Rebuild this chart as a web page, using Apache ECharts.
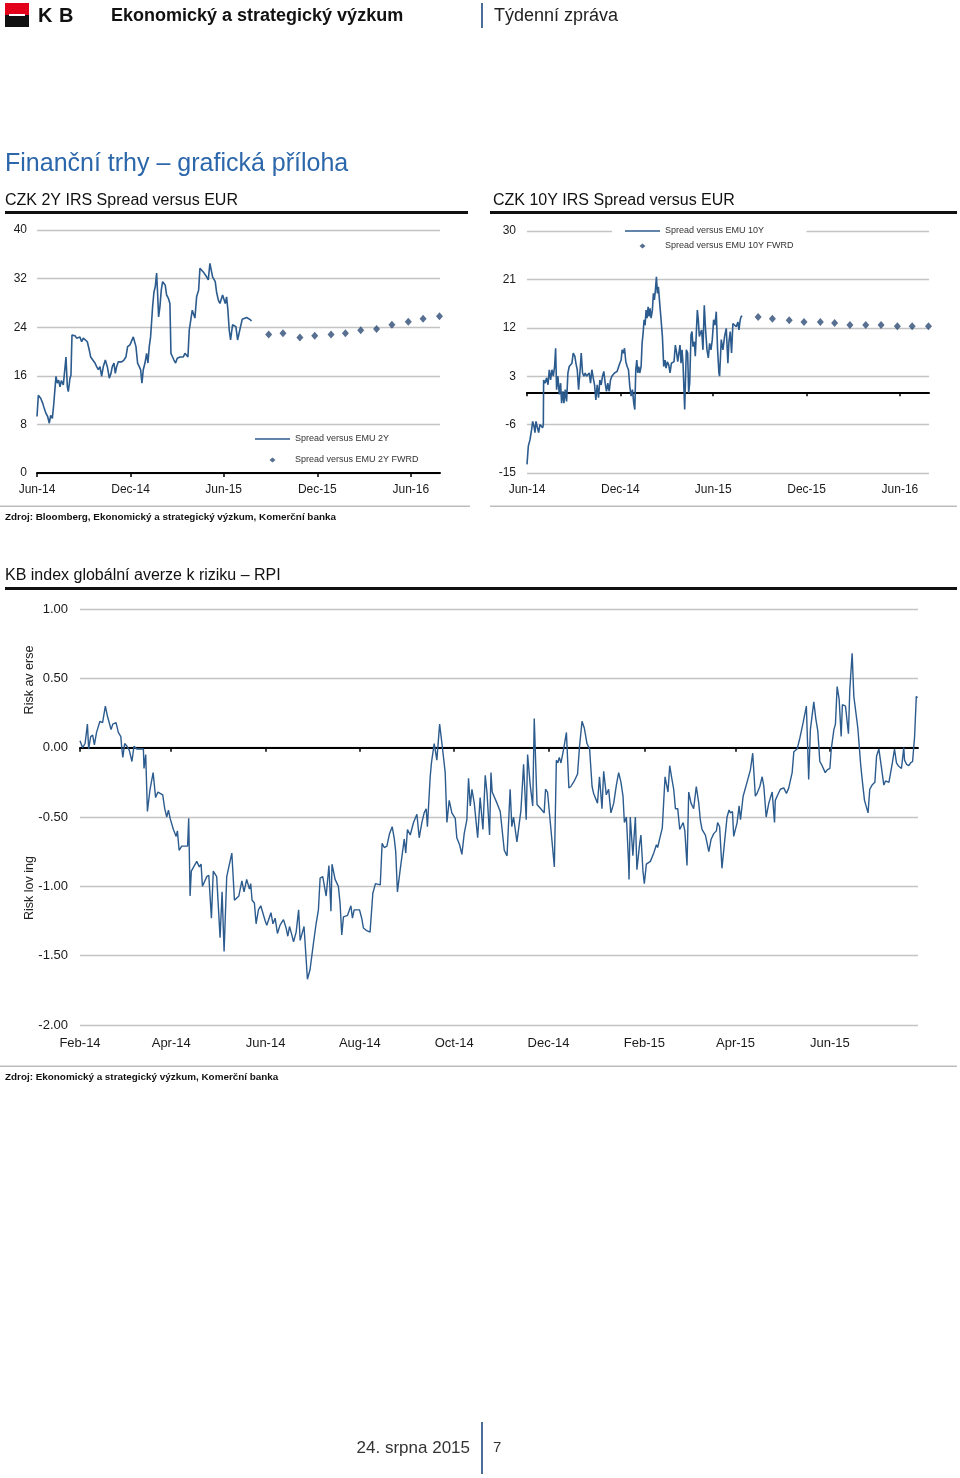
<!DOCTYPE html>
<html><head><meta charset="utf-8">
<script src="https://cdn.jsdelivr.net/npm/echarts@6/dist/echarts.min.js"></script>
<style>html,body{margin:0;padding:0;background:#fff}#c{width:960px;height:1478px}</style>
</head><body><div id="c"></div><script>
// ---------- DATA ----------
const spreadStart = '2014-06-01';
const spreadAxisEnd = '2016-07-28';
const spreadTickDates = ['2014-06-01','2014-12-01','2015-06-01','2015-12-01','2016-06-01'];
const spreadTickLabels = ['Jun-14','Dec-14','Jun-15','Dec-15','Jun-16'];

// days after spreadStart
const spread2yDays = [0,2.6,7.2,11.1,14.3,17.6,20.8,24.1,26.7,30.0,32.6,35.2,
 37.1,39.7,42.3,45.0,47.6,51.5,54.7,56.7,59.3,61.2,64.5,66.4,68.4,71.0,74.3,77.5,80.8,84.0,87.3,90.6,
 94.5,98.4,102.3,104.9,108.8,113.4,116.6,119.9,123.1,126.4,129.6,133.6,137.5,141.4,144.6,147.2,150.5,153.1,155.7,159.0,
 162.2,165.5,170.0,173.9,177.2,181.8,185.0,188.3,190.2,193.5,196.7,200.0,202.6,205.2,207.8,211.1,214.3,216.9,219.5,222.1,
 224.1,226.1,228.7,231.3,233.9,235.8,237.8,240.4,243.0,245.6,248.2,250.8,253.4,256.7,259.9,261.9,265.1,267.8,271.0,274.3,
 276.9,279.5,282.7,286.0,289.3,292.5,295.1,297.7,301.0,303.6,306.8,308.8,312.1,316.0,318.6,321.8,325.1,328.3,331.6,334.9,
 338.1,340.7,343.3,345.9,348.5,351.1,354.4,357.7,360.9,362.9,365.5,368.1,370.7,373.3,375.9,378.5,382.4,385.7,388.9,392.2,
 395.4,398.0,401.3,404.6,409.8,413.7,417.6,419.5];
const spread2yValues = [9.3,12.8,12.3,11.5,10.6,9.8,9.3,8.2,9.5,9.0,11.2,11.5,
 15.9,14.8,15.3,14.2,15.2,14.5,14.8,19.1,14.2,13.4,15.6,16.1,22.7,23.0,22.6,22.2,21.9,22.4,21.6,22.2,
 22.4,21.6,20.2,19.1,18.9,18.1,17.5,17.0,17.5,15.9,17.5,18.6,17.5,15.6,16.4,17.5,18.1,16.4,17.5,18.3,
 18.1,18.3,18.6,19.1,20.8,21.1,21.3,22.4,22.7,20.8,18.1,17.5,17.0,14.8,17.0,18.1,19.7,18.1,20.8,22.4,
 24.9,27.4,29.8,30.7,32.9,29.6,25.7,27.4,30.1,31.5,31.8,30.9,29.3,28.8,27.9,19.7,19.1,18.6,18.1,18.9,
 18.7,19.1,19.4,19.1,19.7,19.7,19.1,23.5,23.8,26.8,27.1,25.5,29.0,30.1,33.7,34.0,33.1,33.4,32.3,31.8,
 34.5,33.4,32.3,32.0,31.5,29.8,28.5,27.9,28.2,29.3,29.0,27.9,29.0,26.8,23.5,21.9,24.4,24.6,24.1,21.9,
 21.6,24.1,25.3,25.6,25.6,25.4,25.2,25.0];

const spread10yDays = [0,2.6,5.9,9.1,11.1,13.7,15.6,17.6,20.2,22.8,25.4,28.7,30.6,32.0,
 32.6,35.2,38.5,41.1,43.7,46.3,48.9,51.5,54.1,56.1,58.0,60.6,63.3,65.9,67.8,70.4,72.4,75.0,77.6,80.2,
 82.8,85.4,88.0,90.6,93.9,95.9,98.5,101.1,103.7,106.3,108.9,111.5,114.1,116.7,119.3,121.9,124.5,127.2,129.8,132.4,
 135.0,137.6,140.2,142.8,145.4,148.0,150.6,153.2,155.8,158.4,161.1,163.7,166.3,168.9,171.5,174.1,176.7,179.3,181.9,184.5,
 186.5,189.1,191.1,193.7,196.3,198.9,201.5,204.1,206.7,209.3,211.3,213.2,215.2,217.1,219.1,221.0,223.7,225.6,227.6,229.5,
 231.5,233.4,235.4,237.4,239.3,241.3,243.2,245.8,247.8,249.7,251.7,253.7,255.6,257.6,260.2,262.8,265.4,268.0,270.6,272.6,
 275.2,277.8,280.4,283.0,285.6,288.2,290.8,293.4,295.4,298.0,299.9,301.9,303.9,305.8,309.1,312.3,314.9,316.9,318.9,321.5,
 323.4,325.4,328.0,329.9,331.9,333.9,335.8,337.8,339.7,342.3,344.9,347.5,350.1,352.8,355.4,358.0,360.6,363.2,365.8,368.4,
 371.0,373.6,376.2,377.5,380.8,384.1,387.3,390.6,393.8,395.8,398.4,401.0,403.6,406.9,410.2,413.4,415.4,418.0,419.9,421.9];
const spread10yValues = [-13.4,-10.0,-8.8,-6.9,-5.4,-6.3,-7.5,-5.4,-5.7,-7.5,-6.0,-6.3,-6.6,-6.0,
 2.3,1.7,2.7,1.4,4.2,2.3,4.2,3.0,4.8,8.2,0.5,3.0,-0.4,1.7,-2.0,0.2,-2.0,0.5,-1.7,3.6,
 4.8,5.1,5.4,7.3,6.7,5.4,4.2,0.5,3.6,7.3,3.6,3.0,3.6,3.0,2.7,3.6,1.7,4.2,2.7,1.4,
 -1.4,1.4,-1.0,2.3,1.4,3.0,3.9,1.7,0.2,1.7,0.2,2.3,3.0,2.7,3.6,3.3,3.9,4.2,5.4,6.0,
 7.9,7.3,8.2,5.7,4.8,4.2,1.1,-0.7,0.5,-2.0,-3.2,4.2,6.0,3.6,4.8,3.6,4.8,9.1,11.0,13.5,
 12.5,15.3,13.8,15.9,14.1,15.6,13.8,15.3,18.4,17.2,19.0,21.5,18.4,19.6,16.5,13.5,10.4,4.8,6.0,4.5,
 5.7,5.1,3.6,5.4,5.1,5.7,8.8,7.3,5.7,6.0,8.8,5.4,7.9,5.4,-3.2,7.9,7.3,-0.1,1.7,10.7,
 11.3,8.5,9.4,6.7,6.7,15.3,13.5,10.4,11.0,11.6,7.9,16.2,11.6,7.9,6.4,9.1,7.9,9.8,13.5,12.5,
 15.0,7.9,3.6,3.0,9.8,7.9,10.4,11.9,5.4,9.4,11.3,7.3,12.8,12.5,12.2,13.1,11.6,13.5,14.1,14.2];

const fwrdDates = ['2015-08-28','2015-09-25','2015-10-28','2015-11-26','2015-12-28','2016-01-25',
 '2016-02-24','2016-03-26','2016-04-25','2016-05-27','2016-06-25','2016-07-27'];
const fwrd2yValues = [22.8,23.0,22.3,22.6,22.8,23.0,23.5,23.7,24.4,24.9,25.4,25.8];
const fwrd10yValues = [14.0,13.7,13.4,13.1,13.1,12.9,12.5,12.5,12.5,12.3,12.3,12.3];

const rpiStart = '2014-02-01';
const rpiAxisEnd = '2015-07-28';
const rpiTickDates = ['2014-02-01','2014-04-01','2014-06-01','2014-08-01','2014-10-01','2014-12-01','2015-02-01','2015-04-01','2015-06-01'];
const rpiTickLabels = ['Feb-14','Apr-14','Jun-14','Aug-14','Oct-14','Dec-14','Feb-15','Apr-15','Jun-15'];
// days after rpiStart
const rpiDays = [0,1.1,1.7,3.3,4.8,5.6,6.9,8.2,9.3,10.7,
 12.9,14.6,16.4,17.7,20.1,21.2,23.3,24.8,26.4,27.0,
 27.7,28.9,30.4,31.9,33.6,34.9,36.7,41.0,41.4,42.5,
 43.6,45.3,47.3,48.9,50.4,53.5,54.8,56.1,57.2,58.3,
 60.4,62.2,63.0,64.1,65.8,69.6,70.3,71.2,72.0,75.5,
 77.2,78.3,79.2,82.0,83.3,85.0,86.2,88.4,90.6,91.9,
 93.2,94.9,98.2,99.9,102.7,104.7,106.1,107.8,109.6,110.4,
 111.3,112.8,113.9,115.4,116.9,119.8,120.8,123.5,124.8,126.2,
 127.7,129.4,131.6,133.3,134.4,135.5,137.0,138.1,139.8,141.4,
 142.4,144.9,147.1,148.8,151.0,152.7,154.2,155.3,157.0,159.2,
 161.0,162.3,163.0,165.0,167.1,168.2,169.3,170.4,173.0,175.2,
 176.2,177.3,180.8,182.2,183.3,185.5,187.6,189.4,191.1,194.2,
 195.4,196.8,198.5,200.2,201.9,203.2,204.2,205.3,207.1,209.7,
 210.7,211.8,213.6,215.7,217.9,219.4,221.1,222.6,223.9,224.7,
 225.8,226.5,227.3,229.1,230.8,232.6,234.3,236.2,237.3,238.8,
 240.5,242.7,243.7,245.5,247.0,248.5,250.2,251.3,252.4,253.5,
 255.0,257.2,258.8,260.6,262.1,263.2,264.9,265.8,266.6,269.7,
 271.8,274.4,276.2,278.2,279.3,280.4,282.6,283.6,285.2,286.9,
 288.6,289.5,291.2,292.8,293.8,295.6,298.7,300.2,301.1,302.4,
 304.6,306.8,308.1,309.1,310.0,311.1,312.8,314.6,316.2,317.5,
 319.7,321.8,323.1,324.7,326.2,327.9,329.6,331.2,332.2,334.7,
 336.0,337.6,338.7,340.4,341.9,343.4,345.2,346.9,348.4,349.9,
 351.2,352.1,353.4,354.8,355.1,355.9,357.6,359.2,360.2,362.0,
 362.8,364.1,365.0,366.3,368.9,371.1,372.8,373.6,375.3,376.6,
 378.4,379.2,380.3,381.4,382.9,384.0,385.1,386.6,387.9,390.1,
 391.2,392.6,393.7,395.2,396.9,398.6,400.2,401.2,402.3,404.5,
 406.7,408.2,409.9,411.6,412.4,413.7,415.2,416.8,418.5,419.8,
 420.7,422.0,422.8,425.0,426.3,427.2,428.9,431.4,433.6,435.1,
 435.8,436.8,437.9,439.7,441.2,442.3,443.8,445.5,447.7,449.2,
 449.7,451.3,453.0,455.2,456.9,458.4,460.6,461.7,463.8,465.6,
 467.7,469.8,471.3,472.4,474.6,475.9,477.2,478.5,480.0,482.0,
 483.3,485.0,485.9,487.6,488.6,489.7,491.0,492.3,493.1,495.1,
 496.2,497.0,497.9,499.4,500.5,503.1,504.9,506.1,507.4,509.7,
 510.8,512.3,514.1,515.2,516.7,518.2,519.9,521.0,523.2,523.8,
 525.4,526.8,528.1,529.2,531.3,532.8,533.3,534.6,536.1,537.2,
 538.5,539.8,540.9,541.7];
const rpiValues = [0.05,0.05,0.00,0.03,0.17,-0.01,0.08,0.09,0.02,0.11,
 0.19,0.18,0.30,0.23,0.13,0.17,0.18,0.11,0.08,0.00,
 -0.07,0.03,0.01,-0.02,-0.10,0.01,-0.01,-0.01,-0.15,-0.05,
 -0.46,-0.30,-0.18,-0.36,-0.32,-0.34,-0.44,-0.50,-0.45,-0.51,
 -0.59,-0.64,-0.60,-0.74,-0.71,-0.71,-0.51,-1.07,-0.89,-0.82,
 -0.86,-0.84,-1.00,-0.93,-0.92,-1.23,-0.89,-0.93,-1.37,-1.04,
 -1.47,-0.93,-0.76,-1.10,-1.07,-0.96,-1.04,-0.95,-1.02,-0.98,
 -1.10,-1.12,-1.27,-1.17,-1.14,-1.25,-1.28,-1.19,-1.27,-1.23,
 -1.34,-1.28,-1.24,-1.30,-1.36,-1.29,-1.35,-1.40,-1.33,-1.17,
 -1.39,-1.29,-1.67,-1.60,-1.41,-1.27,-1.17,-0.94,-0.93,-1.07,
 -0.85,-1.18,-0.84,-0.95,-1.00,-1.12,-1.35,-1.22,-1.21,-1.14,
 -1.23,-1.17,-1.17,-1.23,-1.30,-1.32,-1.33,-1.05,-0.98,-0.99,
 -0.69,-0.72,-0.71,-0.62,-0.57,-0.65,-0.75,-1.04,-0.88,-0.66,
 -0.76,-0.59,-0.63,-0.54,-0.48,-0.65,-0.54,-0.47,-0.44,-0.57,
 -0.56,-0.21,-0.11,0.03,-0.09,0.17,0.01,-0.18,-0.54,-0.38,
 -0.47,-0.51,-0.65,-0.70,-0.77,-0.62,-0.52,-0.22,-0.42,-0.30,
 -0.40,-0.65,-0.36,-0.59,-0.20,-0.32,-0.63,-0.18,-0.32,-0.40,
 -0.46,-0.74,-0.78,-0.30,-0.57,-0.50,-0.68,-0.69,-0.45,-0.12,
 -0.52,-0.05,-0.27,-0.42,0.21,-0.41,-0.45,-0.47,-0.30,-0.32,
 -0.59,-0.86,-0.09,-0.11,-0.07,-0.11,-0.01,0.11,-0.29,-0.28,
 -0.24,-0.19,0.01,0.19,0.14,0.03,-0.01,-0.28,-0.33,-0.40,
 -0.21,-0.44,-0.17,-0.34,-0.30,-0.47,-0.40,-0.27,-0.18,-0.25,
 -0.35,-0.54,-0.50,-0.83,-0.95,-0.50,-0.78,-0.50,-0.88,-0.69,
 -0.63,-0.89,-0.98,-0.84,-0.82,-0.76,-0.70,-0.72,-0.64,-0.58,
 -0.21,-0.22,-0.32,-0.13,-0.23,-0.30,-0.44,-0.44,-0.59,-0.54,
 -0.60,-0.85,-0.32,-0.40,-0.44,-0.28,-0.40,-0.52,-0.59,-0.63,
 -0.75,-0.66,-0.62,-0.60,-0.54,-0.57,-0.87,-0.69,-0.50,-0.45,
 -0.47,-0.46,-0.64,-0.54,-0.42,-0.52,-0.35,-0.25,-0.16,-0.04,
 -0.05,-0.35,-0.33,-0.28,-0.21,-0.28,-0.50,-0.40,-0.32,-0.54,
 -0.38,-0.34,-0.30,-0.29,-0.33,-0.29,-0.18,-0.03,-0.01,0.07,
 0.18,0.30,-0.23,0.13,0.33,0.21,0.12,-0.10,-0.13,-0.18,
 -0.16,-0.15,-0.01,0.13,0.17,0.44,0.35,0.08,0.31,0.30,
 0.29,0.10,0.42,0.68,0.37,0.14,-0.12,-0.25,-0.38,-0.47,
 -0.30,-0.27,-0.25,-0.06,-0.01,-0.13,-0.27,-0.24,-0.25,-0.25,
 -0.11,-0.01,-0.11,-0.13,-0.15,0.00,-0.09,-0.12,-0.13,-0.11,
 -0.10,0.08,0.37,0.36];

// ---------- BUILD ----------
const DAY = 86400000;
const ts = s => Date.parse(s + 'T00:00:00Z');
const sT0 = ts(spreadStart), sT1 = ts(spreadAxisEnd);
const rT0 = ts(rpiStart), rT1 = ts(rpiAxisEnd);
const sTicks = spreadTickDates.map(ts);
const rTicks = rpiTickDates.map(ts);
const pairs = (t0, days, vals) => days.map((d, i) => [t0 + d * DAY, vals[i]]);
const FONT = '"Liberation Sans", Arial, Helvetica, sans-serif';
const LINE = '#2c5b8e';
const DIAM = '#2d4b74';
const GRID = '#c4c4c4';
const lab = (ticks, labels) => v => { const i = ticks.indexOf(v); return i >= 0 ? labels[i] : ''; };
const LINE_ICON = 'path://M0,0 L35,0 L35,1.6 L0,1.6 Z';
const DIAM_ICON = 'path://M0,2.5 L0.01,2.5 L0.01,2.51 Z M35,2.5 L34.99,2.5 L34.99,2.51 Z M17.5,0 L20.5,2.5 L17.5,5 L14.5,2.5 Z';

function labelAxis(gi, t0, t1, ticks, labels, fs, margin) {
  return { gridIndex: gi, type: 'value', min: t0, max: t1, position: 'bottom',
    axisLine: { show: false, onZero: false }, axisTick: { show: false }, splitLine: { show: false },
    axisLabel: { customValues: ticks, formatter: lab(ticks, labels), fontSize: fs, color: '#1a1a1a', margin: margin, fontFamily: FONT } };
}
function lineAxis(gi, t0, t1, ticks) {
  return { gridIndex: gi, type: 'value', min: t0, max: t1, position: 'bottom',
    axisLine: { show: true, onZero: true, lineStyle: { color: '#000', width: 2 } },
    axisTick: { show: true, customValues: ticks, length: 4, lineStyle: { color: '#000', width: 1.5 } },
    axisLabel: { show: false }, splitLine: { show: false } };
}
function valAxis(gi, min, max, interval, fs, margin, fmt) {
  return { gridIndex: gi, type: 'value', min: min, max: max, interval: interval,
    axisLine: { show: false }, axisTick: { show: false },
    splitLine: { show: true, lineStyle: { color: GRID, width: 1.3 } },
    axisLabel: { fontSize: fs, color: '#1a1a1a', margin: margin, fontFamily: FONT, formatter: fmt } };
}

const txt = (x, y, text, font, fill, align) => ({ type: 'text', x: x, y: y, silent: true,
  style: { text: text, font: font, fill: fill || '#1a1a1a', align: align || 'left', verticalAlign: 'middle',
           textAlign: align || 'left', textVerticalAlign: 'middle' } });
const rect = (x, y, w, h, fill) => ({ type: 'rect', silent: true, shape: { x: x, y: y, width: w, height: h }, style: { fill: fill } });
const legendStyle = { fontSize: 9, color: '#333', lineHeight: 10, fontFamily: FONT };

const option = {
  animation: false,
  textStyle: { fontFamily: FONT },
  grid: [
    { left: 37, top: 230, width: 403, height: 243 },
    { left: 527, top: 231, width: 402, height: 242 },
    { left: 80, top: 609, width: 838, height: 416 }
  ],
  xAxis: [
    { gridIndex: 0, type: 'value', min: sT0, max: sT1, position: 'bottom',
      axisLine: { show: true, lineStyle: { color: '#000', width: 2 } },
      axisTick: { show: true, customValues: sTicks, length: 4, lineStyle: { color: '#000', width: 1.5 } },
      axisLabel: { customValues: sTicks, formatter: lab(sTicks, spreadTickLabels), fontSize: 12, color: '#1a1a1a', margin: 11, fontFamily: FONT },
      splitLine: { show: false } },
    labelAxis(1, sT0, sT1, sTicks, spreadTickLabels, 12, 11),
    lineAxis(1, sT0, sT1, sTicks),
    labelAxis(2, rT0, rT1, rTicks, rpiTickLabels, 13, 12),
    lineAxis(2, rT0, rT1, rTicks)
  ],
  yAxis: [
    valAxis(0, 0, 40, 8, 12, 10),
    valAxis(1, -15, 30, 9, 12, 11),
    valAxis(2, -2, 1, 0.5, 13, 12, v => v.toFixed(2))
  ],
  legend: [
    { data: [{ name: 'Spread versus EMU 2Y', icon: LINE_ICON }, { name: 'Spread versus EMU 2Y FWRD', icon: DIAM_ICON }],
      orient: 'vertical', left: 255, top: 434, symbolKeepAspect: true,
      itemWidth: 35, itemHeight: 5, itemGap: 11, padding: 0, selectedMode: false, textStyle: legendStyle },
    { data: [{ name: 'Spread versus EMU 10Y', icon: LINE_ICON }, { name: 'Spread versus EMU 10Y FWRD', icon: DIAM_ICON }],
      orient: 'vertical', left: 612, top: 223, symbolKeepAspect: true,
      itemWidth: 35, itemHeight: 5, itemGap: 5, padding: [3, 13, 3, 13], backgroundColor: '#fff', selectedMode: false,
      textStyle: legendStyle }
  ],
  series: [
    { name: 'Spread versus EMU 2Y', type: 'line', xAxisIndex: 0, yAxisIndex: 0, symbol: 'none',
      lineStyle: { color: LINE, width: 1.6 }, itemStyle: { color: LINE }, data: pairs(sT0, spread2yDays, spread2yValues) },
    { name: 'Spread versus EMU 2Y FWRD', type: 'scatter', xAxisIndex: 0, yAxisIndex: 0, symbol: 'diamond', symbolSize: [7, 8],
      itemStyle: { color: DIAM }, data: fwrdDates.map((d, i) => [ts(d), fwrd2yValues[i]]) },
    { name: 'Spread versus EMU 10Y', type: 'line', xAxisIndex: 1, yAxisIndex: 1, symbol: 'none',
      lineStyle: { color: LINE, width: 1.6 }, itemStyle: { color: LINE }, data: pairs(sT0, spread10yDays, spread10yValues) },
    { name: 'Spread versus EMU 10Y FWRD', type: 'scatter', xAxisIndex: 1, yAxisIndex: 1, symbol: 'diamond', symbolSize: [7, 8],
      itemStyle: { color: DIAM }, data: fwrdDates.map((d, i) => [ts(d), fwrd10yValues[i]]) },
    { name: 'RPI', type: 'line', xAxisIndex: 3, yAxisIndex: 2, symbol: 'none',
      lineStyle: { color: LINE, width: 1.4 }, data: pairs(rT0, rpiDays, rpiValues) }
  ],
  graphic: { elements: [
    // header
    rect(5, 3, 24, 12, '#e2001a'),
    rect(5, 15, 24, 12, '#111'),
    rect(9, 14, 16, 2, '#fff'),
    txt(38, 16, 'K', 'bold 20px ' + FONT, '#111'),
    txt(59, 16, 'B', 'bold 20px ' + FONT, '#111'),
    txt(111, 16, 'Ekonomický a strategický výzkum', 'bold 18px ' + FONT, '#111'),
    rect(481, 3, 2, 25, '#4b6e96'),
    txt(494, 16, 'Týdenní zpráva', '18px ' + FONT, '#222'),
    // section title
    txt(5, 164, 'Finanční trhy – grafická příloha', '25px ' + FONT, '#2d67ab'),
    // chart titles
    txt(5, 201, 'CZK 2Y IRS Spread versus EUR', '16px ' + FONT, '#111'),
    txt(493, 201, 'CZK 10Y IRS Spread versus EUR', '16px ' + FONT, '#111'),
    rect(5, 211, 463, 3, '#111'),
    rect(490, 211, 467, 3, '#111'),
    rect(0, 505.5, 470, 1.5, '#bdbdbd'),
    rect(490, 505.5, 467, 1.5, '#bdbdbd'),
    txt(5, 517, 'Zdroj: Bloomberg, Ekonomický a strategický výzkum, Komerční banka', 'bold 9.9px ' + FONT, '#111'),
    // RPI
    txt(5, 576, 'KB index globální averze k riziku – RPI', '16px ' + FONT, '#111'),
    rect(5, 587, 952, 3, '#111'),
    { type: 'text', x: 30, y: 680, rotation: Math.PI / 2, silent: true,
      style: { text: 'Risk av erse', font: '12.5px ' + FONT, fill: '#222', align: 'center', verticalAlign: 'middle', textAlign: 'center', textVerticalAlign: 'middle' } },
    { type: 'text', x: 30, y: 888, rotation: Math.PI / 2, silent: true,
      style: { text: 'Risk lov ing', font: '12.5px ' + FONT, fill: '#222', align: 'center', verticalAlign: 'middle', textAlign: 'center', textVerticalAlign: 'middle' } },
    rect(0, 1065.5, 957, 1.5, '#bdbdbd'),
    txt(5, 1077, 'Zdroj: Ekonomický a strategický výzkum, Komerční banka', 'bold 9.9px ' + FONT, '#111'),
    // footer
    txt(470, 1448, '24. srpna 2015', '17px ' + FONT, '#333', 'right'),
    rect(481, 1422, 2, 52, '#4b6e96'),
    txt(493, 1448, '7', '15px ' + FONT, '#333')
  ] }
};

const chart = echarts.init(document.getElementById('c'), null, { renderer: 'canvas' });
chart.setOption(option);
</script></body></html>
